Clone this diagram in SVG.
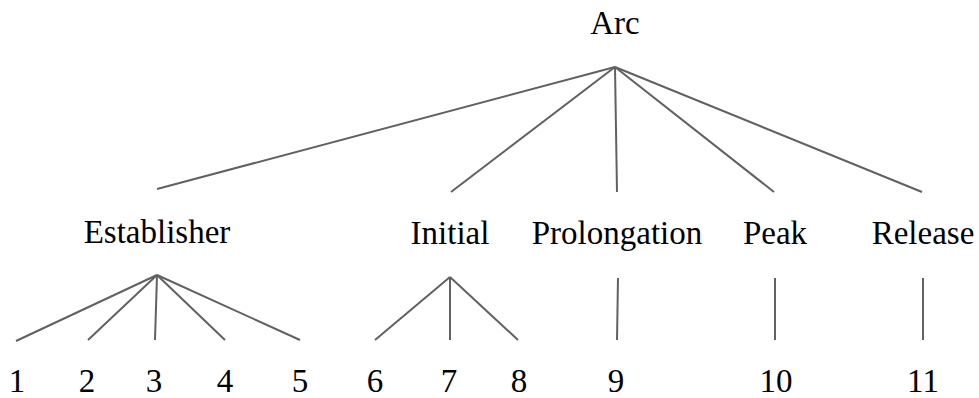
<svg xmlns="http://www.w3.org/2000/svg" width="979" height="398" viewBox="0 0 979 398">
  <style>
    .lbl { font-family: 'Liberation Serif', 'Times New Roman', Times, serif; font-size: 33px; fill: #000; text-anchor: middle; }
    .edge { stroke: #616161; stroke-width: 2; fill: none; stroke-linecap: butt; }
  </style>
  <rect width="979" height="398" fill="#fff"/>

  <g id="connectors">
    <!-- Arc to its five parts -->
    <line class="edge" x1="615" y1="67" x2="157" y2="189"/>
    <line class="edge" x1="615" y1="67" x2="451" y2="192"/>
    <line class="edge" x1="615" y1="67" x2="617" y2="192"/>
    <line class="edge" x1="615" y1="67" x2="774" y2="192"/>
    <line class="edge" x1="615" y1="67" x2="922" y2="192"/>
    <!-- Establisher -->
    <line class="edge" x1="157" y1="275" x2="16" y2="341"/>
    <line class="edge" x1="157" y1="275" x2="88" y2="340"/>
    <line class="edge" x1="157" y1="275" x2="155" y2="340"/>
    <line class="edge" x1="157" y1="275" x2="225" y2="340"/>
    <line class="edge" x1="157" y1="275" x2="300" y2="340"/>
    <!-- Initial -->
    <line class="edge" x1="450" y1="277" x2="375" y2="340"/>
    <line class="edge" x1="450" y1="277" x2="450" y2="340"/>
    <line class="edge" x1="450" y1="277" x2="518" y2="340"/>
    <!-- Prolongation, Peak, Release -->
    <line class="edge" x1="618" y1="278" x2="617" y2="340"/>
    <line class="edge" x1="775" y1="278" x2="775" y2="340"/>
    <line class="edge" x1="923" y1="278" x2="923" y2="340"/>
  </g>

  <g class="lbl" font-family="Liberation Serif, serif">
    <g id="arc"><text x="615" y="34">Arc</text></g>
    <g id="establisher"><text x="157" y="243">Establisher</text></g>
    <g id="initial"><text x="450" y="244">Initial</text></g>
    <g id="prolongation"><text x="617" y="244">Prolongation</text></g>
    <g id="peak"><text x="775" y="244">Peak</text></g>
    <g id="release"><text x="923" y="244">Release</text></g>

    <g id="n1"><text x="17" y="392">1</text></g>
    <g id="n2"><text x="87" y="392">2</text></g>
    <g id="n3"><text x="154" y="392">3</text></g>
    <g id="n4"><text x="225" y="392">4</text></g>
    <g id="n5"><text x="300" y="392">5</text></g>
    <g id="n6"><text x="375" y="392">6</text></g>
    <g id="n7"><text x="449" y="392">7</text></g>
    <g id="n8"><text x="519" y="392">8</text></g>
    <g id="n9"><text x="616" y="392">9</text></g>
    <g id="n10"><text x="776" y="392">10</text></g>
    <g id="n11"><text x="923" y="392">11</text></g>
  </g>
</svg>
